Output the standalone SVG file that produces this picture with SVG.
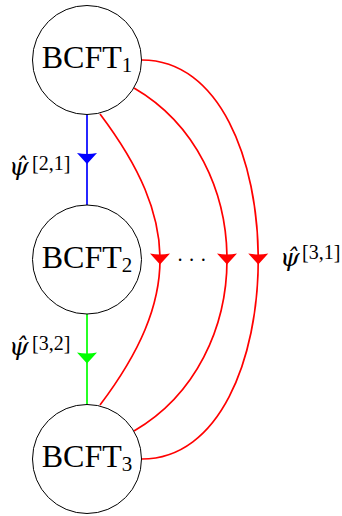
<svg xmlns="http://www.w3.org/2000/svg" width="342" height="516" viewBox="0 0 342 516">
<defs>
<style>
.node circle{fill:#fff;stroke:#000;stroke-width:1}
.node text{font-family:"Liberation Serif",serif;font-size:32px;fill:#000;text-anchor:middle}
.sub{font-size:21px}
.conn path{fill:none;stroke-width:1.7}
.lab{font-family:"Liberation Serif",serif;fill:#000;font-size:20px}
.psi{font-family:"DejaVu Serif",serif;font-style:italic;font-size:25px}
</style>
<marker id="ab" markerUnits="userSpaceOnUse" orient="auto" overflow="visible" refX="0" refY="0" markerWidth="12" markerHeight="20"><path d="M-6,-10 Q-4,0 -6,10 L5,0 Z" fill="#0000ff"/></marker>
<marker id="ag" markerUnits="userSpaceOnUse" orient="auto" overflow="visible" refX="0" refY="0" markerWidth="12" markerHeight="20"><path d="M-6,-10 Q-4,0 -6,10 L5,0 Z" fill="#00ff00"/></marker>
<marker id="ar" markerUnits="userSpaceOnUse" orient="auto" overflow="visible" refX="0" refY="0" markerWidth="12" markerHeight="20"><path d="M-6,-10 Q-4,0 -6,10 L5,0 Z" fill="#ff0000"/></marker>
</defs>
<rect width="342" height="516" fill="#fff"/>
<g id="connectors" class="conn">
<path d="M87,114.5 L87,159 L87,205" stroke="#0000ff" marker-mid="url(#ab)"/>
<path d="M87,314 L87,358.5 L87,404.5" stroke="#00ff00" marker-mid="url(#ag)"/>
<path d="M100,114 C140,167 160,213.25 160,259.5 C160,305.75 140,352 100,405" stroke="#ff0000" marker-mid="url(#ar)"/>
<path d="M134,88 C196,124 227,191.75 227,259.5 C227,327.25 196,395 134,431" stroke="#ff0000" marker-mid="url(#ar)"/>
<path d="M142,60 C219.5,60 258.25,159.75 258.25,259.5 C258.25,359.25 219.5,459 142,459" stroke="#ff0000" marker-mid="url(#ar)"/>
</g>
<g id="bcft1" class="node"><circle cx="87" cy="60" r="54.5"/><text x="87" y="68.3">BCFT<tspan class="sub" dy="4">1</tspan></text></g>
<g id="bcft2" class="node"><circle cx="87" cy="259.5" r="54.5"/><text x="87" y="267.8">BCFT<tspan class="sub" dy="4">2</tspan></text></g>
<g id="bcft3" class="node"><circle cx="87" cy="459" r="54.5"/><text x="87" y="467.3">BCFT<tspan class="sub" dy="4">3</tspan></text></g>
<g id="label21"><text class="lab" x="9" y="175"><tspan class="psi">ψ̂</tspan><tspan x="32" y="170">[2,1]</tspan></text></g>
<g id="label32"><text class="lab" x="9" y="355"><tspan class="psi">ψ̂</tspan><tspan x="32" y="350">[3,2]</tspan></text></g>
<g id="label31"><text class="lab" x="280" y="266"><tspan class="psi">ψ̂</tspan><tspan x="302" y="259">[3,1]</tspan></text></g>
<text class="lab" font-size="24" text-anchor="middle" x="180 191.7 203.3" y="267">···</text>
</svg>
